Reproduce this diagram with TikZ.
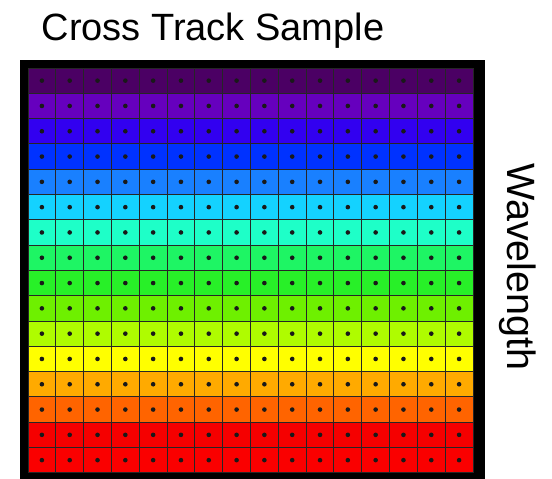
\documentclass[tikz,border=0pt]{standalone}
\usepackage{fontspec}
\setmainfont{Liberation Sans}
\definecolor{r1}{RGB}{75,0,100}
\definecolor{r2}{RGB}{102,0,190}
\definecolor{r3}{RGB}{50,0,240}
\definecolor{r4}{RGB}{0,50,255}
\definecolor{r5}{RGB}{25,128,255}
\definecolor{r6}{RGB}{20,210,255}
\definecolor{r7}{RGB}{30,255,200}
\definecolor{r8}{RGB}{30,245,100}
\definecolor{r9}{RGB}{40,240,40}
\definecolor{r10}{RGB}{110,240,0}
\definecolor{r11}{RGB}{175,252,0}
\definecolor{r12}{RGB}{255,255,0}
\definecolor{r13}{RGB}{255,170,0}
\definecolor{r14}{RGB}{255,100,0}
\definecolor{r15}{RGB}{245,0,0}
\definecolor{r16}{RGB}{250,0,0}
\tikzset{
  gridline/.style={line width=0.9pt, draw=black!85},
  sampledot/.style={fill=black!90},
  titletext/.style={inner sep=0pt, font=\fontsize{38}{40}\selectfont},
  axistext/.style={inner sep=0pt, font=\fontsize{39.5}{42}\selectfont}
}
\begin{document}
\begin{tikzpicture}[x=1pt,y=-1pt]
\useasboundingbox[fill=white] (0,0) rectangle (552,479);
\fill[black] (20,60) rectangle (485,482);
\foreach \c [count=\i from 0] in {r1,r2,r3,r4,r5,r6,r7,r8,r9,r10,r11,r12,r13,r14,r15,r16} {
  \fill[\c] (28,{68+\i*25.3}) rectangle (473,{68+(\i+1)*25.3});
}
\foreach \j in {0,...,16} {
  \draw[gridline] ({28+\j*27.8125},68) -- ({28+\j*27.8125},472.8);
  \draw[gridline] (28,{68+\j*25.3}) -- (473,{68+\j*25.3});
}
\foreach \i in {0,...,15} {
  \foreach \j in {0,...,15} {
    \fill[sampledot] ({28+13.9+\j*27.8125},{68+12.65+\i*25.3}) circle[radius=2.3pt];
  }
}
\node[titletext, anchor=base] (title) at (213,40) {Cross Track Sample};
\node[axistext, anchor=base, rotate=-90] (wl) at (507,267) {Wavelength};
\end{tikzpicture}
\end{document}
